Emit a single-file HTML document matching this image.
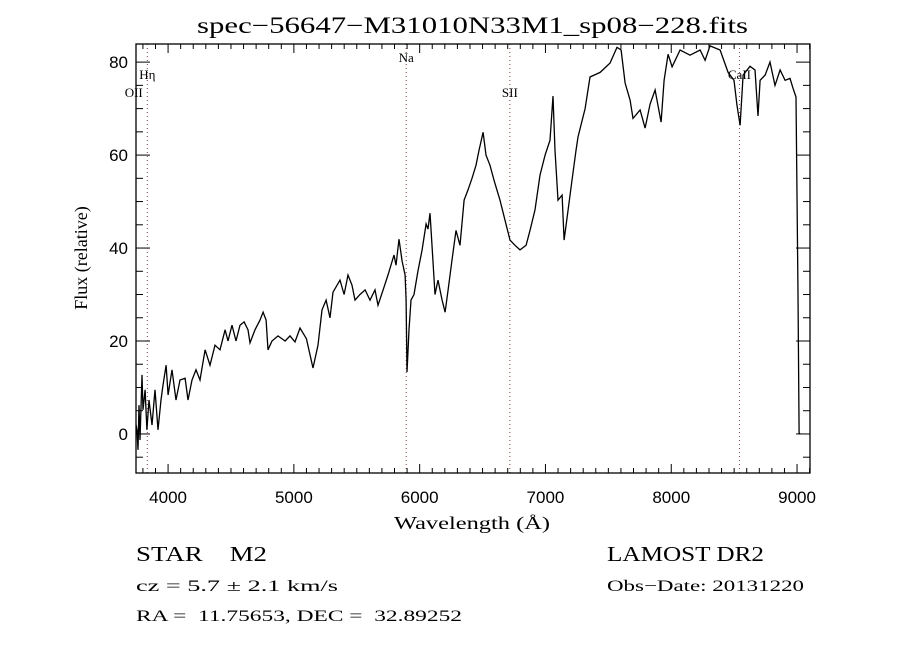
<!DOCTYPE html>
<html><head><meta charset="utf-8"><style>
html,body{margin:0;padding:0;background:#fff;}
svg{display:block;font-family:"Liberation Serif",serif;}
</style></head><body>
<svg id="chart" width="900" height="650" viewBox="0 0 900 650" xmlns="http://www.w3.org/2000/svg">
<rect width="900" height="650" fill="#fff"/>
<text x="197" y="33" font-size="23" textLength="551" lengthAdjust="spacingAndGlyphs">spec−56647−M31010N33M1_sp08−228.fits</text>
<g id="axes"></g>
<g id="lines"></g>
<path id="spec" fill="none" stroke="#000" stroke-width="1.3"/>
<rect x="136" y="44" width="674" height="429" fill="none" stroke="#000" stroke-width="1.3"/>
<text x="394" y="529" font-size="18" textLength="156" lengthAdjust="spacingAndGlyphs">Wavelength (Å)</text>
<text x="87" y="258" font-size="18" text-anchor="middle" transform="rotate(-90 87 258)">Flux (relative)</text>
<text x="136" y="561" font-size="21" xml:space="preserve" textLength="131" lengthAdjust="spacingAndGlyphs">STAR    M2</text>
<text x="136" y="591" font-size="16" textLength="202" lengthAdjust="spacingAndGlyphs">cz = 5.7 ± 2.1 km/s</text>
<text x="136" y="621" font-size="16" xml:space="preserve" textLength="326" lengthAdjust="spacingAndGlyphs">RA =  11.75653, DEC =  32.89252</text>
<text x="607" y="561" font-size="21" textLength="157" lengthAdjust="spacingAndGlyphs">LAMOST DR2</text>
<text x="607" y="591" font-size="16" textLength="197" lengthAdjust="spacingAndGlyphs">Obs−Date: 20131220</text>
</svg>
<script>
const wavelengths=[3745,3753,3761,3769,3777,3793,3801,3817,3832,3848,3872,3896,3920,3944,3960,3984,4000,4031,4063,4095,4135,4158,4190,4222,4254,4294,4333,4373,4413,4453,4476,4508,4540,4572,4604,4635,4651,4691,4731,4755,4779,4794,4826,4874,4930,4969,5009,5049,5100,5152,5192,5224,5256,5287,5311,5367,5399,5430,5462,5486,5526,5566,5605,5645,5669,5709,5748,5796,5812,5836,5860,5884,5892,5899,5915,5931,5955,5987,6019,6051,6066,6082,6098,6122,6146,6178,6202,6226,6257,6289,6321,6353,6384,6416,6448,6472,6504,6527,6559,6591,6639,6678,6718,6758,6798,6846,6877,6917,6957,6997,7036,7060,7076,7100,7132,7148,7180,7211,7243,7259,7315,7354,7434,7513,7569,7601,7633,7673,7696,7752,7792,7832,7872,7919,7943,7975,8007,8070,8149,8229,8269,8308,8388,8452,8499,8523,8547,8571,8626,8666,8690,8706,8746,8785,8825,8865,8905,8944,8968,8992,9008,9016,9024];
const fluxes=[2,0.9,-3.4,6.2,-1.3,12.7,5.2,9.5,0.9,7.3,1.9,9.5,0.9,7.3,10.5,14.8,8.4,13.8,7.3,11.6,12.0,7.3,11.6,13.8,11.6,18.1,14.8,19.1,18.1,22.4,20.0,23.4,20.0,23.4,24.1,22.4,19.6,22.4,24.5,26.2,24.5,18.1,20.0,21.1,20.0,21.1,19.8,22.8,20.5,14.2,19.1,26.7,28.8,25.0,30.5,33.1,30.0,34.2,32.0,28.8,30.0,31.0,28.8,31.0,27.7,31.0,34.2,38.5,36.3,41.9,37.2,34.2,28.8,13.3,22.4,28.8,30.0,35.1,39.6,45.2,44.1,47.5,40.6,30.0,33.1,28.8,26.2,31.0,37.4,43.8,40.6,50.3,52.5,55.0,57.8,61.0,64.9,60.0,57.8,54.6,50.3,46.0,41.7,40.6,39.6,40.6,43.8,48.2,55.7,60.0,63.2,72.7,61.0,50.3,51.4,41.7,48.2,54.6,61.0,63.9,70.0,76.8,77.8,79.8,83.2,82.6,75.5,71.8,67.9,69.7,65.8,71.0,74.0,67.1,76.1,81.7,79.0,82.6,81.5,82.6,80.4,83.5,82.6,77.8,76.1,70.7,66.4,77.2,79.1,78.3,68.4,76.1,77.2,80.0,75.0,78.3,76.1,76.5,74.4,72.5,30.1,0.2,0];
const xTickLabels=[4000,5000,6000,7000,8000,9000];
const yTickLabels=[0,20,40,60,80];
const lineNames=["OII","Hη","Na","SII","CaII"];
const lineWaves=[3727,3835,5893,6717,8542];

const X0=136,X1=810,Y0=44,Y1=473;
const wMin=3745,wMax=9103,fMin=-8.4,fMax=83.9;
function xs(w){return X0+(w-wMin)/(wMax-wMin)*(X1-X0);}
function ys(f){return Y1-(f-fMin)/(fMax-fMin)*(Y1-Y0);}
const NS="http://www.w3.org/2000/svg";
function mk(tag,attrs,parent){const e=document.createElementNS(NS,tag);for(const k in attrs)e.setAttribute(k,attrs[k]);parent.appendChild(e);return e;}
const ax=document.getElementById('axes');
for(let w=3800;w<=9100;w+=100){
  const x=xs(w),maj=(w%1000===0),L=maj?9:5;
  const t1=mk('line',{x1:x,x2:x,y1:Y1,y2:Y1-L,stroke:'#000'},ax);
  
  
  const t2=mk('line',{x1:x,x2:x,y1:Y0,y2:Y0+L,stroke:'#000'},ax);
  
  
}
xTickLabels.forEach(v=>{
  const t=mk('text',{x:xs(v),y:503,'font-size':17,'text-anchor':'middle','font-family':'Liberation Sans, sans-serif'},ax);
  t.textContent=v;
  
  
});
for(let f=-5;f<=80;f+=5){
  const y=ys(f),maj=(f%20===0),L=maj?14:7;
  const t1=mk('line',{x1:X0,x2:X0+L,y1:y,y2:y,stroke:'#000'},ax);
  
  
  const t2=mk('line',{x1:X1,x2:X1-L,y1:y,y2:y,stroke:'#000'},ax);
  
  
}
yTickLabels.forEach(v=>{
  const t=mk('text',{x:128,y:ys(v)+6,'font-size':17,'text-anchor':'end','font-family':'Liberation Sans, sans-serif'},ax);
  t.textContent=v;
  
  
});
const lg=document.getElementById('lines');
const labelY=[97,79,62,97,79];
lineNames.forEach((n,i)=>{
  const x=xs(lineWaves[i]);
  if(x>X0+1){
    const l=mk('line',{x1:x,x2:x,y1:Y0,y2:Y1,stroke:'#8b3a3a','stroke-width':1,'stroke-dasharray':'1,3'},lg);
    
    
  }
  const t=mk('text',{x:x,y:labelY[i],'font-size':13,'text-anchor':'middle'},lg);
  t.textContent=n;
  
  
});
let d='';
wavelengths.forEach((w,i)=>{
  const y=Math.max(Y0,Math.min(Y1,ys(fluxes[i])));
  d+=(i?'L':'M')+xs(w).toFixed(1)+','+y.toFixed(1);
});
document.getElementById('spec').setAttribute('d',d);
</script>
</body></html>
